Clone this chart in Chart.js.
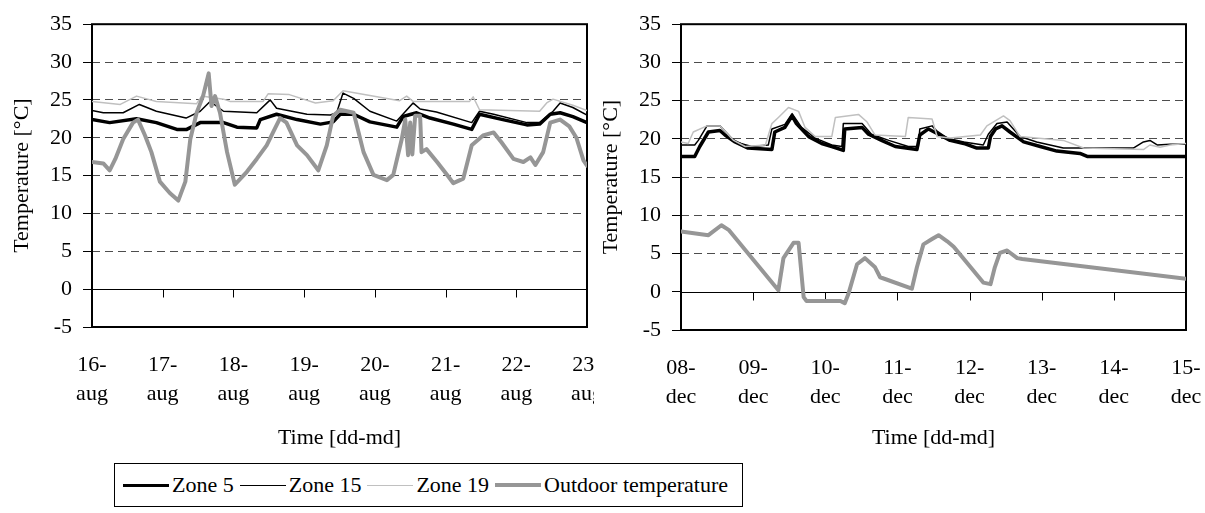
<!DOCTYPE html>
<html>
<head>
<meta charset="utf-8">
<title>Zone temperatures</title>
<script src="https://cdn.jsdelivr.net/npm/chart.js@4.4.1/dist/chart.umd.min.js"></script>
<style>
    body {
        margin: 0;
        width: 1205px;
        height: 513px;
        position: relative;
        overflow: hidden;
        background: #fff;
        font-family: "Liberation Serif", "Times New Roman", Times, "DejaVu Serif", serif;
    }
    .panel {
        position: absolute;
        top: 0;
        height: 455px;
        overflow: hidden;
    }
    #legend {
        position: absolute;
        left: 114px;
        top: 463px;
        height: 42px;
        border: 1px solid #000;
        display: flex;
        align-items: center;
        padding: 0 8px 0 8px;
        font-size: 22px;
        color: #000;
        white-space: nowrap;
    }
    .item { display: flex; align-items: center; margin-right: 6px; }
    .swatch { display: inline-block; width: 46px; margin-right: 3px; }
</style>
</head>
<body>
<div class="panel" style="left:0; width:594px;"><canvas id="augChart" width="640" height="455"></canvas></div>
<div class="panel" style="left:589px; width:616px;"><canvas id="decChart" width="616" height="455"></canvas></div>
<div id="legend"></div>

<script>
// ============================================================================
// Data (time in days from the first tick)
// ============================================================================

const seriesNames = ['Zone 5', 'Zone 15', 'Zone 19', 'Outdoor temperature'];

const augTickLabels = [['16-', 'aug'], ['17-', 'aug'], ['18-', 'aug'], ['19-', 'aug'],
                       ['20-', 'aug'], ['21-', 'aug'], ['22-', 'aug'], ['23-', 'aug']];
const decTickLabels = [['08-', 'dec'], ['09-', 'dec'], ['10-', 'dec'], ['11-', 'dec'],
                       ['12-', 'dec'], ['13-', 'dec'], ['14-', 'dec'], ['15-', 'dec']];

// August week
const augZone5Time = [0, 0.25, 0.63, 0.91, 1.20, 1.34, 1.53, 1.86, 2.05, 2.33, 2.38, 2.61, 2.90, 3.23,
                      3.41, 3.51, 3.70, 3.93, 4.31, 4.40, 4.59, 4.78, 5.11, 5.37, 5.48, 5.81, 6.15,
                      6.33, 6.48, 6.62, 6.80, 7.0];
const augZone5Temp = [22.4, 22.0, 22.5, 22.0, 21.1, 21.1, 22.0, 22.0, 21.4, 21.3, 22.4, 23.1, 22.4, 21.8,
                      22.1, 23.1, 23.1, 22.1, 21.4, 22.8, 23.3, 22.6, 21.8, 21.1, 23.1, 22.4, 21.7,
                      21.8, 23.1, 23.3, 22.8, 22.0];

const augZone15Time = [0, 0.16, 0.44, 0.67, 0.91, 1.33, 1.53, 1.67, 1.86, 2.33, 2.52, 2.61, 3.04, 3.37,
                       3.46, 3.55, 3.70, 3.93, 4.31, 4.54, 4.64, 4.87, 5.37, 5.48, 5.68, 6.15, 6.33,
                       6.52, 6.62, 6.80, 7.0];
const augZone15Temp = [23.6, 23.3, 23.3, 24.4, 23.5, 22.6, 23.5, 24.8, 23.5, 23.3, 25.0, 23.9, 23.1, 23.0,
                       23.3, 25.9, 25.2, 23.5, 22.2, 24.6, 23.8, 23.4, 22.0, 23.5, 23.1, 22.0, 22.0,
                       23.5, 24.6, 24.0, 23.0];

const augZone19Time = [0, 0.40, 0.63, 0.91, 1.48, 1.55, 1.86, 1.95, 2.42, 2.49, 2.79, 3.16, 3.41, 3.55,
                       4.35, 4.45, 4.54, 5.34, 5.39, 5.48, 6.33, 6.43, 6.52, 6.80, 7.0];
const augZone19Temp = [24.8, 24.4, 25.5, 24.8, 24.5, 25.5, 25.1, 24.8, 24.8, 25.8, 25.7, 24.6, 24.9, 26.2,
                       24.9, 25.5, 24.8, 24.8, 25.4, 23.7, 23.5, 24.6, 25.1, 24.3, 23.6];

const augOutdoorTime = [0, 0.16, 0.25, 0.33, 0.44, 0.58, 0.65, 0.75, 0.84, 0.96, 1.10, 1.22, 1.32, 1.39,
                        1.48, 1.57, 1.65, 1.69, 1.74, 1.81, 1.91, 2.02, 2.19, 2.33, 2.47, 2.56, 2.66,
                        2.75, 2.90, 3.04, 3.20, 3.32, 3.41, 3.51, 3.70, 3.84, 3.98, 4.17, 4.26, 4.38,
                        4.43, 4.47, 4.50, 4.53, 4.57, 4.64, 4.66, 4.73, 4.88, 5.02, 5.11, 5.25, 5.37,
                        5.53, 5.68, 5.79, 5.96, 6.10, 6.20, 6.27, 6.38, 6.48, 6.62, 6.75, 6.85, 6.95, 7.0];
const augOutdoorTemp = [16.8, 16.6, 15.7, 17.2, 19.8, 22.0, 22.4, 20.3, 18.1, 14.2, 12.7, 11.7, 14.2, 19.8,
                        23.3, 25.5, 28.5, 24.2, 25.5, 23.3, 18.1, 13.8, 15.5, 17.2, 19.0, 20.7, 22.6,
                        22.0, 19.0, 17.7, 15.7, 19.0, 22.9, 23.7, 23.3, 18.1, 15.1, 14.4, 15.1, 19.8,
                        22.4, 17.7, 22.0, 17.8, 22.9, 22.9, 18.1, 18.5, 16.8, 15.1, 14.0, 14.6, 19.0,
                        20.3, 20.7, 19.4, 17.2, 16.8, 17.4, 16.4, 18.1, 22.0, 22.4, 21.5, 20.0, 17.0, 16.3];

// December week
const decZone5Time = [0, 0.19, 0.26, 0.38, 0.54, 0.61, 0.75, 0.93, 1.26, 1.30, 1.44, 1.54, 1.60, 1.77,
                      1.95, 2.09, 2.25, 2.27, 2.51, 2.60, 2.78, 2.97, 3.27, 3.31, 3.43, 3.59, 3.73,
                      3.92, 4.10, 4.26, 4.29, 4.36, 4.45, 4.56, 4.75, 4.98, 5.21, 5.53, 5.63, 7.0];
const decZone5Temp = [17.7, 17.7, 19.0, 20.9, 21.1, 20.5, 19.6, 18.8, 18.6, 20.9, 21.5, 23.0, 22.0, 20.3,
                      19.4, 19.0, 18.5, 21.3, 21.5, 20.6, 19.8, 19.0, 18.6, 20.5, 21.3, 20.5, 19.8,
                      19.4, 18.8, 18.8, 20.3, 21.3, 21.7, 20.9, 19.6, 19.0, 18.4, 18.1, 17.7, 17.7];

const decZone15Time = [0, 0.19, 0.24, 0.36, 0.54, 0.75, 0.98, 1.21, 1.26, 1.44, 1.54, 1.67, 1.86, 2.09,
                       2.23, 2.25, 2.51, 2.64, 2.88, 3.15, 3.29, 3.31, 3.48, 3.55, 3.69, 3.92, 4.19,
                       4.26, 4.38, 4.52, 4.70, 4.93, 5.30, 6.27, 6.41, 6.50, 6.60, 6.78, 7.0];
const decZone15Temp = [19.2, 19.2, 19.8, 21.7, 21.7, 19.6, 19.0, 19.2, 21.3, 21.9, 23.3, 21.5, 20.1, 19.2,
                       19.0, 22.0, 22.0, 20.6, 19.8, 19.0, 19.0, 21.3, 21.7, 21.0, 20.1, 19.6, 19.2,
                       20.6, 22.0, 22.2, 20.3, 19.6, 18.8, 18.8, 19.6, 19.8, 19.2, 19.3, 19.3];

const decZone19Time = [0, 0.10, 0.17, 0.36, 0.54, 0.73, 0.89, 1.17, 1.26, 1.35, 1.49, 1.63, 1.72, 1.86,
                       2.09, 2.14, 2.46, 2.58, 2.69, 3.11, 3.15, 3.48, 3.55, 3.73, 4.15, 4.24, 4.47,
                       4.56, 4.70, 5.30, 5.58, 6.41, 6.50, 6.64, 6.78, 7.0];
const decZone19Temp = [19.6, 19.4, 20.9, 21.7, 21.7, 19.8, 19.0, 19.2, 22.0, 22.8, 24.1, 23.6, 21.5, 20.3,
                       20.3, 22.8, 23.2, 22.2, 20.5, 20.3, 22.8, 22.6, 20.3, 20.1, 20.5, 21.7, 23.0,
                       22.4, 20.3, 19.8, 18.8, 18.6, 19.2, 18.9, 19.2, 19.4];

const decOutdoorTime = [0, 0.38, 0.56, 0.66, 1.35, 1.42, 1.56, 1.63, 1.70, 1.74, 2.21, 2.27, 2.32, 2.44,
                        2.55, 2.69, 2.76, 3.20, 3.27, 3.36, 3.48, 3.57, 3.69, 3.78, 4.19, 4.29, 4.35,
                        4.42, 4.52, 4.66, 4.73, 7.0];
const decOutdoorTemp = [7.9, 7.4, 8.7, 8.1, 0.2, 4.4, 6.4, 6.4, -0.7, -1.2, -1.2, -1.5, -0.3, 3.6,
                        4.4, 3.2, 1.9, 0.4, 3.2, 6.2, 6.9, 7.4, 6.6, 5.9, 1.2, 1.0, 3.2,
                        5.1, 5.4, 4.4, 4.3, 1.7];

// Series styles
const seriesColors = ['#000000', '#000000', '#c0c0c0', '#969696'];
const seriesWidths = [3.5, 1.5, 1.5, 4];

const FONT = '"Liberation Serif", "Times New Roman", Times, "DejaVu Serif", serif';
const CANVAS_HEIGHT = 455;

// ============================================================================
// Helpers
// ============================================================================

function toPoints(times, temps) {
    return times.map((t, i) => ({ x: t, y: temps[i] }));
}

// Plot frame plus the solid 0 line carrying the category tick marks
const axisFrame = {
    id: 'axisFrame',
    beforeDatasetsDraw(chart) {
        const { ctx, chartArea: a, scales: { x, y } } = chart;
        const y0 = Math.round(y.getPixelForValue(0)) + 0.5;
        ctx.save();
        ctx.strokeStyle = '#000';
        ctx.lineWidth = 1;
        ctx.beginPath();
        ctx.moveTo(a.left, y0);
        ctx.lineTo(a.right, y0);
        x.ticks.forEach(t => {
            const px = Math.round(x.getPixelForValue(t.value)) + 0.5;
            ctx.moveTo(px, y0);
            ctx.lineTo(px, y0 + 8);
        });
        ctx.stroke();
        ctx.lineWidth = 2;
        ctx.strokeRect(a.left, a.top, a.right - a.left, a.bottom - a.top);
        ctx.restore();
    }
};

function makeChart(canvasId, series, tickLabels, plotTop, plotBottom, rightPad) {
    const datasets = series.map((pts, i) => ({
        label: seriesNames[i],
        data: pts,
        borderColor: seriesColors[i],
        borderWidth: seriesWidths[i],
        order: 4 - i
    }));

    return new Chart(document.getElementById(canvasId), {
        type: 'line',
        data: { datasets },
        options: {
            responsive: false,
            animation: false,
            devicePixelRatio: 1,
            layout: { padding: { top: plotTop, right: rightPad, left: 0, bottom: 0 } },
            plugins: { legend: { display: false }, tooltip: { enabled: false } },
            elements: {
                point: { radius: 0 },
                line: { tension: 0, borderJoinStyle: 'round', borderCapStyle: 'round' }
            },
            scales: {
                x: {
                    type: 'linear',
                    min: 0,
                    max: 7,
                    grid: { display: false, drawTicks: false },
                    border: { display: false },
                    ticks: {
                        stepSize: 1,
                        autoSkip: false,
                        maxRotation: 0,
                        padding: 23,
                        color: '#000',
                        font: { family: FONT, size: 22, lineHeight: 1.35 },
                        callback: v => tickLabels[Math.round(v)]
                    },
                    title: {
                        display: true,
                        text: 'Time [dd-md]',
                        color: '#000',
                        font: { family: FONT, size: 22 },
                        padding: { top: 0, bottom: 4 }
                    },
                    afterFit(scale) {
                        scale.height = CANVAS_HEIGHT - plotBottom;
                        scale.paddingLeft = 0;
                        scale.paddingRight = 0;
                    }
                },
                y: {
                    min: -5,
                    max: 35,
                    grid: {
                        color: c => [-5, 0, 35].includes(c.tick.value) ? 'rgba(0,0,0,0)' : '#4d4d4d',
                        lineWidth: 1,
                        drawTicks: true,
                        tickLength: 9,
                        tickColor: '#000',
                        tickWidth: 1
                    },
                    border: { display: false, dash: [8, 5] },
                    ticks: {
                        stepSize: 5,
                        padding: 11,
                        color: '#000',
                        font: { family: FONT, size: 22 }
                    },
                    title: {
                        display: true,
                        text: 'Temperature [°C]',
                        color: '#000',
                        font: { family: FONT, size: 22 },
                        padding: { top: 9, bottom: 0 }
                    },
                    afterFit(scale) {
                        scale.width = 92;
                    }
                }
            }
        },
        plugins: [axisFrame]
    });
}

function buildLegend() {
    const box = document.getElementById('legend');
    box.innerHTML = seriesNames.map((name, i) => `
        <span class="item">
            <span class="swatch" style="border-top:${seriesWidths[i]}px solid ${seriesColors[i]}"></span>${name}
        </span>
    `).join('');
}

// ============================================================================
// Initialization
// ============================================================================

makeChart('augChart', [
    toPoints(augZone5Time, augZone5Temp),
    toPoints(augZone15Time, augZone15Temp),
    toPoints(augZone19Time, augZone19Temp),
    toPoints(augOutdoorTime, augOutdoorTemp)
], augTickLabels, 20, 327, 53);

makeChart('decChart', [
    toPoints(decZone5Time, decZone5Temp),
    toPoints(decZone15Time, decZone15Temp),
    toPoints(decZone19Time, decZone19Temp),
    toPoints(decOutdoorTime, decOutdoorTemp)
], decTickLabels, 18, 330, 19);

buildLegend();
</script>
</body>
</html>
